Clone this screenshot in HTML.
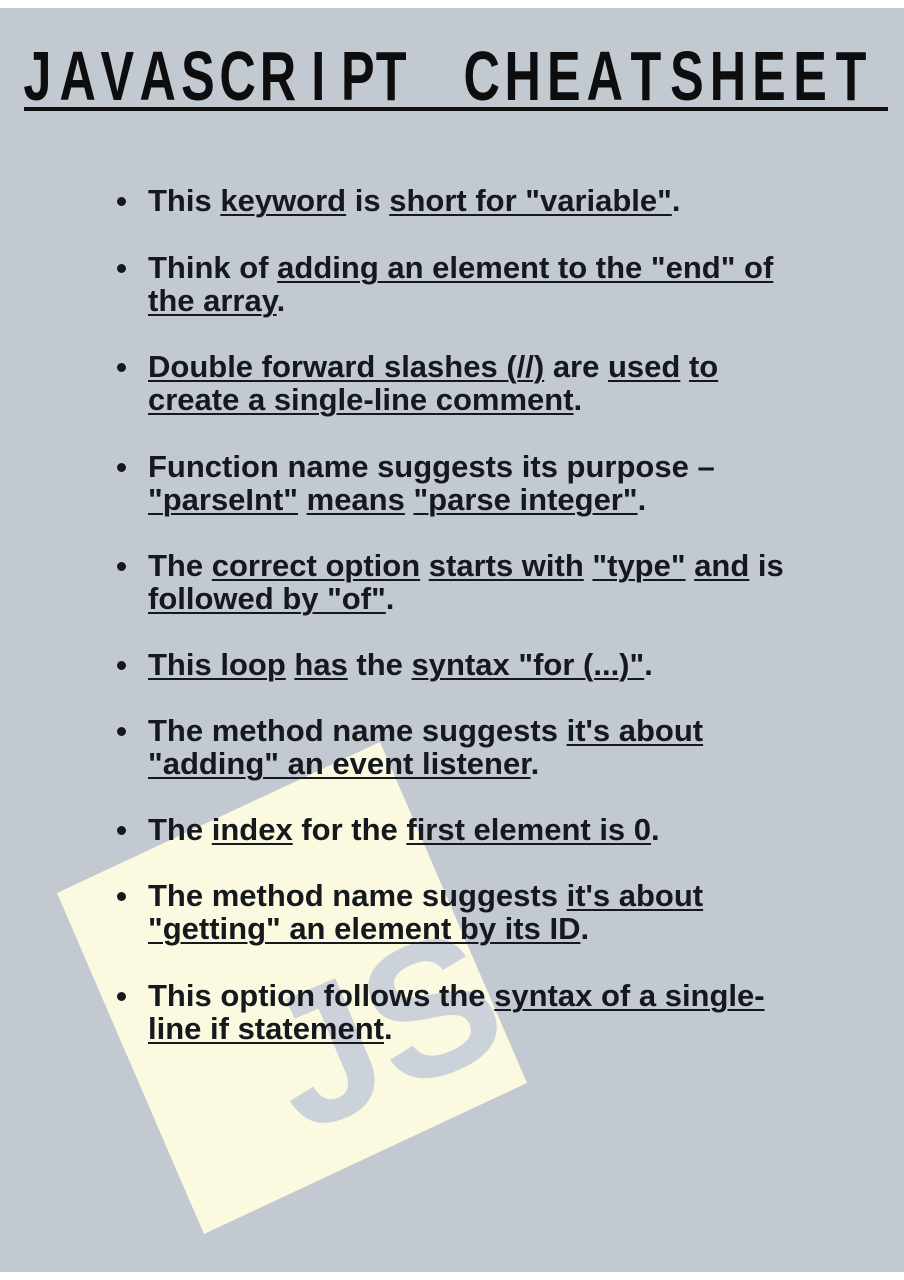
<!DOCTYPE html>
<html><head><meta charset="utf-8"><style>
html,body{margin:0;padding:0;}
body{width:904px;height:1280px;background:#fff;position:relative;overflow:hidden;font-family:"Liberation Sans",sans-serif;}
.bg{position:absolute;left:0;top:8px;width:904px;height:1264px;background:#c3c9d1;}
.rule{position:absolute;left:24px;top:107px;width:864px;height:4px;background:#111;}
.l{position:absolute;left:148px;height:34px;line-height:34px;font-size:31px;font-weight:bold;color:#15181d;white-space:nowrap;}
.l u{text-decoration-thickness:2px;text-underline-offset:3px;}
.b{position:absolute;left:117px;width:9px;height:9px;border-radius:50%;background:#15181d;}
</style></head><body>
<div class="bg"></div>
<svg style="position:absolute;left:0;top:0" width="904" height="1280">
<polygon points="380,742 527,1083 204,1234 57,893" fill="#fbf9df"/>
<g transform="translate(270,985) rotate(-23)" fill="#ccd2da" font-family="Liberation Sans,sans-serif" font-weight="bold" font-size="190"><text x="-30" y="150">JS</text></g>
<g transform="scale(0.72,1)" font-family="Liberation Sans,sans-serif" font-weight="bold" font-size="70" fill="#0d0d0f" text-anchor="middle">
<text y="100">
<tspan x="52">J</tspan><tspan x="108">A</tspan><tspan x="163">V</tspan><tspan x="219">A</tspan><tspan x="275">S</tspan><tspan x="330">C</tspan><tspan x="386">R</tspan><tspan x="442">I</tspan><tspan x="497">P</tspan><tspan x="553">T</tspan>
<tspan x="669">C</tspan><tspan x="726">H</tspan><tspan x="783">E</tspan><tspan x="840">A</tspan><tspan x="897">T</tspan><tspan x="954">S</tspan><tspan x="1011">H</tspan><tspan x="1068">E</tspan><tspan x="1125">E</tspan><tspan x="1182">T</tspan>
</text></g>
</svg>
<div class="rule"></div>

<div class="b" style="top:197px"></div>
<div class="l" style="top:184px">This <u>keyword</u> is <u>short for "variable"</u>.</div>

<div class="b" style="top:264px"></div>
<div class="l" style="top:251px">Think of <u>adding an element to the "end" of</u></div>
<div class="l" style="top:284px"><u>the array</u>.</div>

<div class="b" style="top:363px"></div>
<div class="l" style="top:350px"><u>Double forward slashes (//)</u> are <u>used</u> <u>to</u></div>
<div class="l" style="top:383px"><u>create a single-line comment</u>.</div>

<div class="b" style="top:463px"></div>
<div class="l" style="top:450px">Function name suggests its purpose –</div>
<div class="l" style="top:483px"><u>"parseInt"</u> <u>means</u> <u>"parse integer"</u>.</div>

<div class="b" style="top:562px"></div>
<div class="l" style="top:549px">The <u>correct option</u> <u>starts with</u> <u>"type"</u> <u>and</u> is</div>
<div class="l" style="top:582px"><u>followed by "of"</u>.</div>

<div class="b" style="top:661px"></div>
<div class="l" style="top:648px"><u>This loop</u> <u>has</u> the <u>syntax "for (...)"</u>.</div>

<div class="b" style="top:727px"></div>
<div class="l" style="top:714px">The method name suggests <u>it's about</u></div>
<div class="l" style="top:747px"><u>"adding" an event listener</u>.</div>

<div class="b" style="top:826px"></div>
<div class="l" style="top:813px">The <u>index</u> for the <u>first element is 0</u>.</div>

<div class="b" style="top:892px"></div>
<div class="l" style="top:879px">The method name suggests <u>it's about</u></div>
<div class="l" style="top:912px"><u>"getting" an element by its ID</u>.</div>

<div class="b" style="top:992px"></div>
<div class="l" style="top:979px">This option follows the <u>syntax of a single-</u></div>
<div class="l" style="top:1012px"><u>line if statement</u>.</div>
</body></html>
